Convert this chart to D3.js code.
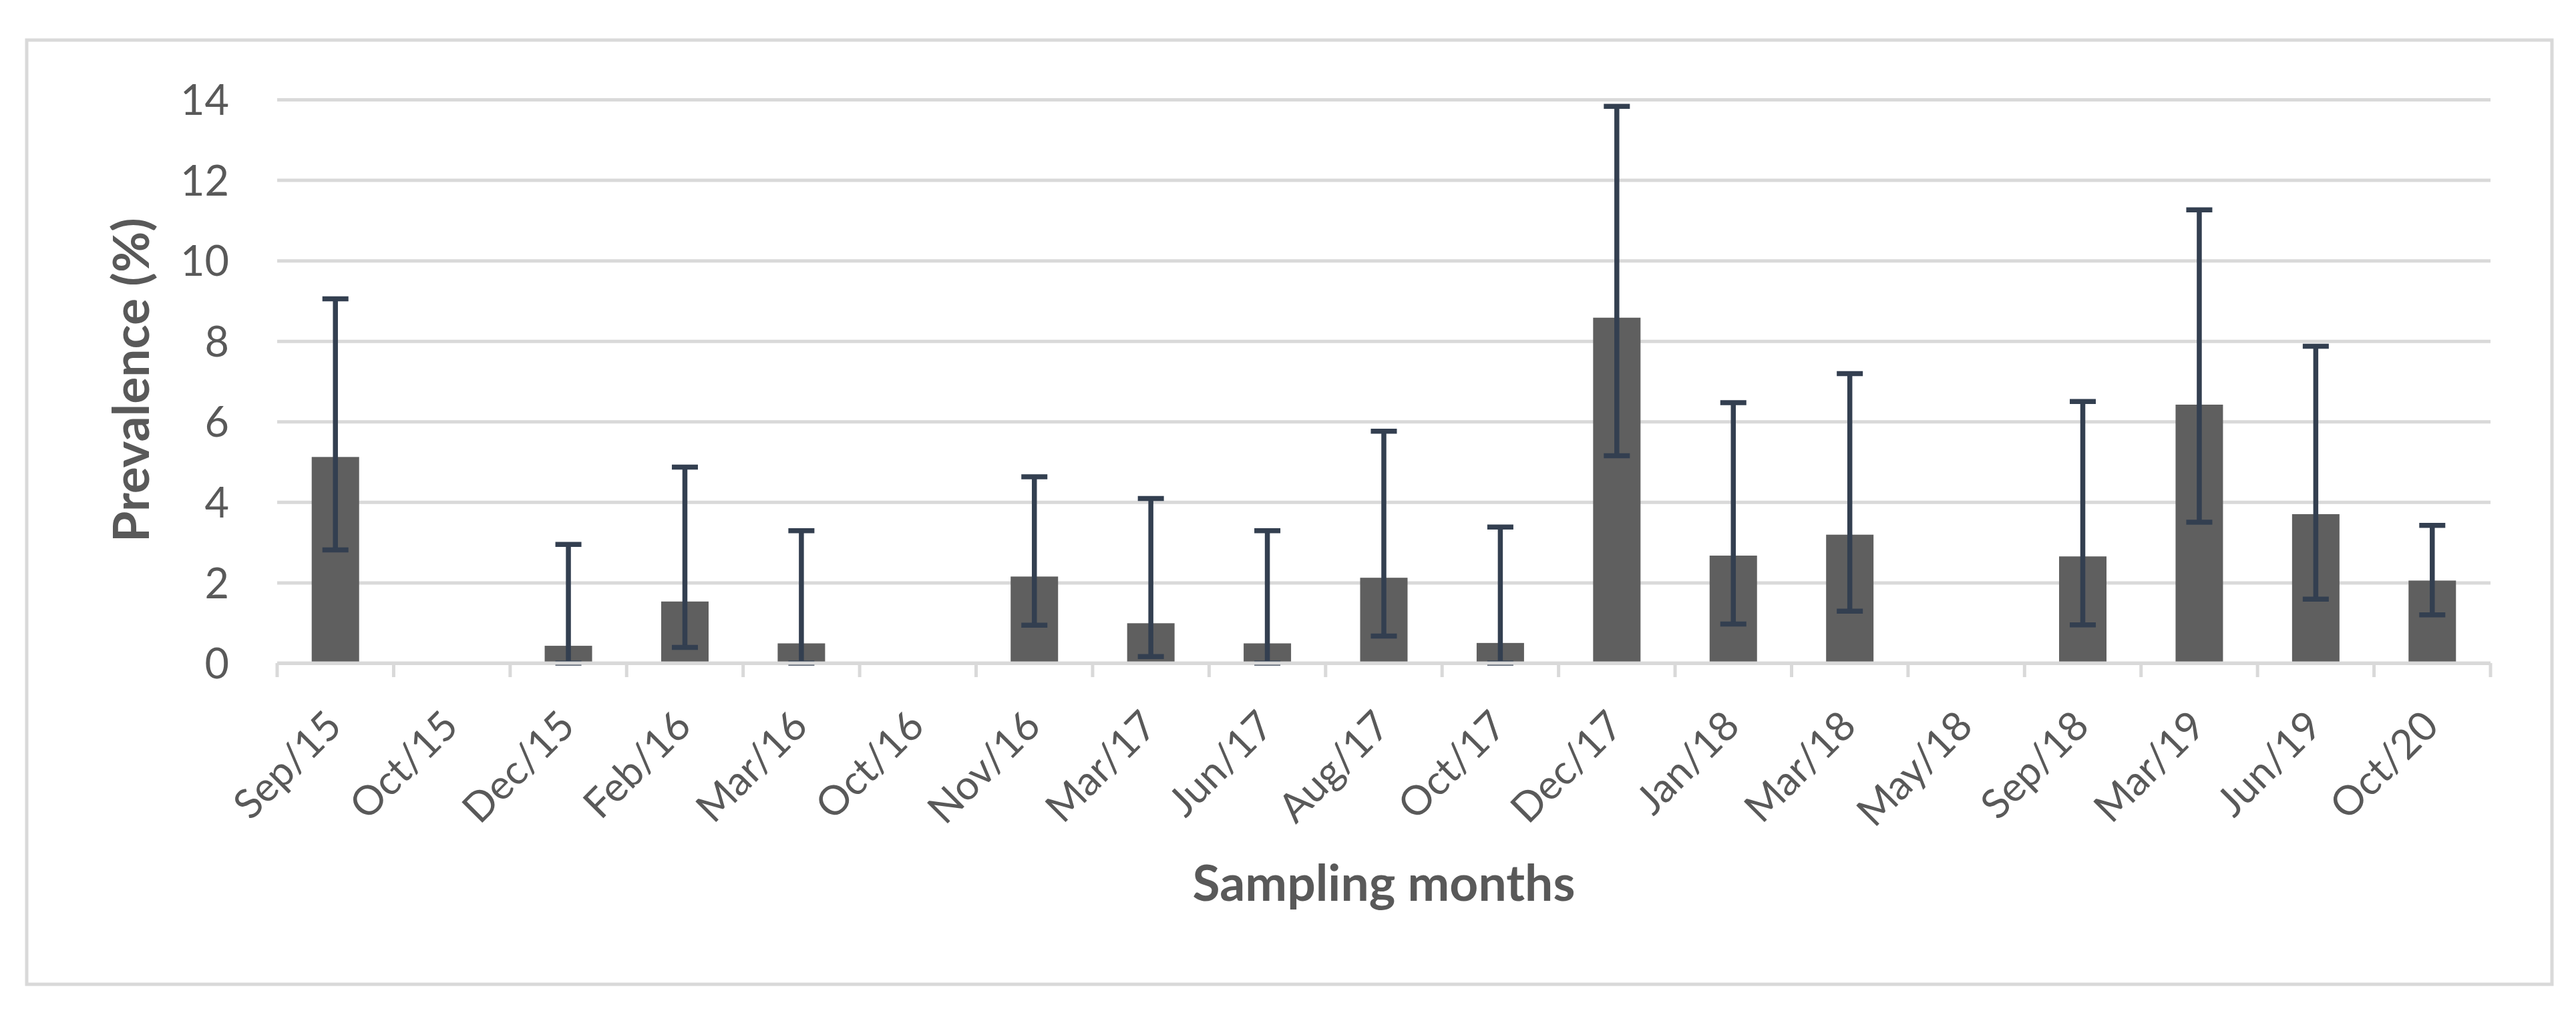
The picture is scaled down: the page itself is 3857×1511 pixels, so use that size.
<!DOCTYPE html>
<html>
<head>
<meta charset="utf-8">
<script src="https://cdn.jsdelivr.net/npm/d3@7"></script>
<style>
  html, body { margin: 0; padding: 0; background: #fff; }
  svg { display: block; }
  text { font-family: Lato, "Open Sans", sans-serif; fill: #595959; }
</style>
</head>
<body>
<svg id="chart"></svg>
<script>
// sampling months (x categories)
const months = ["Sep/15", "Oct/15", "Dec/15", "Feb/16", "Mar/16", "Oct/16", "Nov/16", "Mar/17",
  "Jun/17", "Aug/17", "Oct/17", "Dec/17", "Jan/18", "Mar/18", "May/18", "Sep/18", "Mar/19", "Jun/19", "Oct/20"];
// prevalence (%) per month
const prevalence = [5.12, 0, 0.43, 1.53, 0.49, 0, 2.15, 0.99, 0.49, 2.12, 0.50, 8.58, 2.67, 3.19, 0, 2.65, 6.42, 3.70, 2.05];
// confidence interval bounds, null where no error bar is drawn
const ciUpper = [9.05, null, 2.95, 4.87, 3.29, null, 4.63, 4.09, 3.29, 5.76, 3.38, 13.83, 6.47, 7.19, null, 6.50, 11.26, 7.87, 3.42];
const ciLower = [2.81, null, 0, 0.39, 0, null, 0.94, 0.16, 0, 0.67, 0, 5.15, 0.97, 1.29, null, 0.95, 3.50, 1.59, 1.20];
const yTicks = [0, 2, 4, 6, 8, 10, 12, 14];

const WIDTH = 3857, HEIGHT = 1511;
const PLOT = { left: 415, right: 3729, top: 149, bottom: 993 };
const GRID_COLOR = "#d9d9d9";
const BAR_COLOR = "#5f5f5f";
const ERR_COLOR = "#333f50";
const CAP_WIDTH = 39;

const svg = d3.select("#chart")
  .attr("width", WIDTH)
  .attr("height", HEIGHT);

// outer chart frame
svg.append("rect")
  .attr("x", 40).attr("y", 60)
  .attr("width", 3781).attr("height", 1414)
  .attr("fill", "#fff")
  .attr("stroke", GRID_COLOR)
  .attr("stroke-width", 5);

const x = d3.scaleBand()
  .domain(months)
  .range([PLOT.left, PLOT.right])
  .paddingInner(0.593)
  .paddingOuter(0.2965);

const y = d3.scaleLinear()
  .domain([0, 14])
  .range([PLOT.bottom, PLOT.top]);

const data = months.map((m, i) => ({
  month: m,
  value: prevalence[i],
  upper: ciUpper[i],
  lower: ciLower[i]
}));

// horizontal gridlines + y tick labels
const yAxis = d3.axisLeft(y)
  .tickValues(yTicks)
  .tickSize(-(PLOT.right - PLOT.left))
  .tickPadding(72)
  .tickFormat(d3.format("d"));

const gy = svg.append("g")
  .attr("transform", `translate(${PLOT.left},0)`)
  .call(yAxis);
gy.select(".domain").remove();
gy.selectAll(".tick line")
  .attr("stroke", GRID_COLOR)
  .attr("stroke-width", 5);
gy.selectAll(".tick text")
  .attr("font-size", 63)
  .attr("fill", "#595959")
  .attr("dy", "0.36em");

// bars
svg.append("g").selectAll("rect")
  .data(data.filter(d => d.value > 0))
  .enter().append("rect")
  .attr("x", d => x(d.month))
  .attr("y", d => y(d.value))
  .attr("width", x.bandwidth())
  .attr("height", d => y(0) - y(d.value))
  .attr("fill", BAR_COLOR);

// error bars
const err = svg.append("g")
  .attr("stroke", ERR_COLOR)
  .attr("stroke-width", 7.5)
  .selectAll("g")
  .data(data.filter(d => d.upper !== null))
  .enter().append("g")
  .attr("transform", d => `translate(${x(d.month) + x.bandwidth() / 2},0)`);

err.append("line")
  .attr("y1", d => y(d.lower))
  .attr("y2", d => y(d.upper));
err.append("line")
  .attr("x1", -CAP_WIDTH / 2).attr("x2", CAP_WIDTH / 2)
  .attr("y1", d => y(d.upper)).attr("y2", d => y(d.upper));
err.append("line")
  .attr("x1", -CAP_WIDTH / 2).attr("x2", CAP_WIDTH / 2)
  .attr("y1", d => y(d.lower)).attr("y2", d => y(d.lower));

// category axis with ticks between bars
const step = x.step();
const boundaries = d3.range(months.length + 1).map(i => PLOT.left + i * step);

const gx = svg.append("g");
gx.append("line")
  .attr("x1", PLOT.left).attr("x2", PLOT.right)
  .attr("y1", PLOT.bottom).attr("y2", PLOT.bottom)
  .attr("stroke", GRID_COLOR)
  .attr("stroke-width", 5);
gx.selectAll(".tick-mark")
  .data(boundaries)
  .enter().append("line")
  .attr("class", "tick-mark")
  .attr("x1", d => d).attr("x2", d => d)
  .attr("y1", PLOT.bottom).attr("y2", PLOT.bottom + 21)
  .attr("stroke", GRID_COLOR)
  .attr("stroke-width", 5);

gx.selectAll(".month-label")
  .data(months)
  .enter().append("text")
  .attr("class", "month-label")
  .attr("text-anchor", "end")
  .attr("dominant-baseline", "central")
  .attr("font-size", 61)
  .attr("transform", d => `translate(${x(d) + x.bandwidth() / 2 - 4},1074) rotate(-45)`)
  .text(d => d);

// axis titles
svg.append("text")
  .attr("text-anchor", "middle")
  .attr("font-size", 75)
  .attr("font-weight", "bold")
  .attr("transform", `translate(223,569) rotate(-90)`)
  .text("Prevalence (%)");

svg.append("text")
  .attr("text-anchor", "middle")
  .attr("font-size", 75)
  .attr("font-weight", "bold")
  .attr("x", (PLOT.left + PLOT.right) / 2)
  .attr("y", 1349)
  .text("Sampling months");
</script>
</body>
</html>
